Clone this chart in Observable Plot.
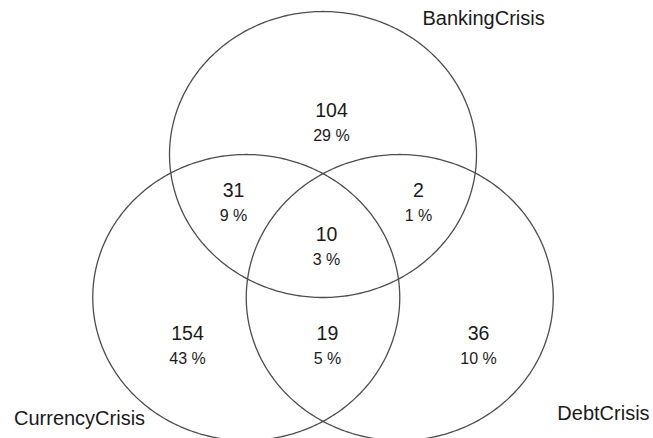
<!DOCTYPE html>
<html>
<head>
<meta charset="utf-8">
<script src="https://cdn.jsdelivr.net/npm/d3@7"></script>
<script src="https://cdn.jsdelivr.net/npm/@observablehq/plot@0.6"></script>
<style>
  html, body { margin: 0; padding: 0; background: #fff; }
  #chart svg { display: block; }
</style>
</head>
<body>
<div id="chart"></div>
<script>
// Sets (circles) of the Venn diagram
const setNames = ["BankingCrisis", "CurrencyCrisis", "DebtCrisis"];

// Region counts (exclusive regions)
const regionNames = ["Banking only", "Banking & Currency", "Banking & Debt", "All three", "Currency only", "Currency & Debt", "Debt only"];
const regionCounts = [104, 31, 2, 10, 154, 19, 36];

// Layout (data units, circle radius = 1)
const circleCenters = [[0, 1.0], [-0.5, 0], [0.5, 0]];
const circleRadius = 1;
const regionAnchors = [[0.055, 1.308], [-0.583, 0.748], [0.622, 0.748], [0.023, 0.441], [-0.883, -0.252], [0.029, -0.252], [1.013, -0.252]];
const setLabelAnchors = [[1.046, 1.951], [-1.586, -0.846], [1.827, -0.811]];

const total = d3.sum(regionCounts);
const regions = regionNames.map((name, i) => ({
  name,
  count: regionCounts[i],
  pct: Math.round(regionCounts[i] / total * 100) + " %",
  x: regionAnchors[i][0],
  y: regionAnchors[i][1]
}));

const outline = [];
setNames.forEach((name, i) => {
  const [cx, cy] = circleCenters[i];
  for (let k = 0; k < 360; k++) {
    const a = k / 360 * 2 * Math.PI;
    outline.push({set: name, x: cx + circleRadius * Math.cos(a), y: cy + circleRadius * Math.sin(a)});
  }
});

const setLabels = setNames.map((name, i) => ({name, x: setLabelAnchors[i][0], y: setLabelAnchors[i][1]}));

const font = "Liberation Sans, Arial, Helvetica, sans-serif";

const chart = Plot.plot({
  width: 653,
  height: 438,
  margin: 0,
  style: {background: "#fff", fontFamily: font},
  x: {domain: [-2.101, 2.153], axis: null},
  y: {domain: [-0.986, 2.077], axis: null},
  marks: [
    Plot.line(outline, {x: "x", y: "y", z: "set", curve: "linear-closed", stroke: "#4d4d4d", strokeWidth: 1.3}),
    Plot.text(regions, {x: "x", y: "y", text: d => String(d.count), fontSize: 19.5, fill: "#1a1a1a"}),
    Plot.text(regions, {x: "x", y: "y", text: "pct", dy: 25, fontSize: 16, fill: "#1a1a1a"}),
    Plot.text(setLabels, {x: "x", y: "y", text: "name", fontSize: 20, fill: "#1a1a1a"})
  ]
});
document.getElementById("chart").appendChild(chart);
</script>
</body>
</html>
